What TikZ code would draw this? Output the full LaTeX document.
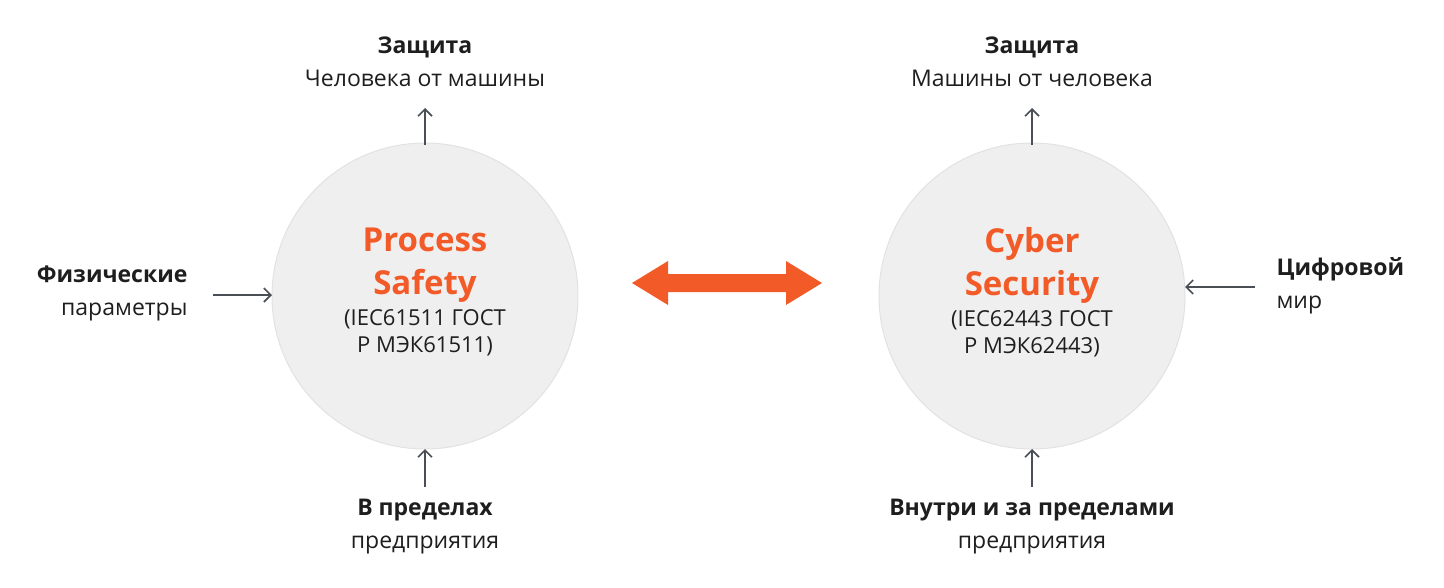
\documentclass[tikz,border=0pt]{standalone}
\usepackage{fontspec}
\setmainfont{Open Sans}
\usetikzlibrary{arrows.meta}
\usetikzlibrary{positioning}
\definecolor{disc}{HTML}{EFEFEF}
\definecolor{discline}{HTML}{E2E2E2}
\definecolor{accent}{HTML}{F25A28}
\definecolor{ink}{HTML}{1E1E1E}
\definecolor{arr}{HTML}{4A4F55}
\tikzset{
  zone/.style={circle, fill=disc, draw=discline, line width=1pt, minimum size=306pt, inner sep=0pt},
  head/.style={text=accent, font=\fontsize{33}{43}\selectfont\bfseries, align=center},
  std/.style={text=ink, font=\fontsize{22}{27}\selectfont, align=center},
  lbl/.style={text=ink, font=\fontsize{23}{33}\selectfont},
  feed/.style={draw=arr, line width=1.6pt, -{Straight Barb[length=7pt,width=14pt]}}
}
\begin{document}
\begin{tikzpicture}[x=1pt,y=-1pt]
\useasboundingbox (0,0) rectangle (1444,587);
% discs
\node[zone] (ps) at (425,296) {};
\node[zone] (cs) at (1032,296) {};
\node[head] (pst) at (425,265) {Process\\Safety};
\node[std, below=0pt of pst] {(IEC61511 ГОСТ\\Р МЭК61511)};
\node[head] (cst) at (1032,265) {Cyber\\Security};
\node[std, below=0pt of cst] {(IEC62443 ГОСТ\\Р МЭК62443)};
% link
\fill[accent] (632,283) -- (668,261) -- (668,274) -- (786,274) -- (786,261) -- (822,283)
  -- (786,305) -- (786,292) -- (668,292) -- (668,305) -- cycle;
% labels
\node[lbl, align=center] (pstop) at (425,62) {\textbf{Защита}\\Человека от машины};
\node[lbl, align=right, anchor=east] (psleft) at (191,293) {\textbf{Физические}\\параметры};
\node[lbl, align=center] (psbot) at (425,527) {\textbf{В пределах}\\предприятия};
\node[lbl, align=center] (cstop) at (1032,62) {\textbf{Защита}\\Машины от человека};
\node[lbl, align=left, anchor=west] (csright) at (1273,286) {\textbf{Цифровой}\\мир};
\node[lbl, align=center] (csbot) at (1032,527) {\textbf{Внутри и за пределами}\\предприятия};
% feeds
\coordinate (a1) at (425,145); \coordinate (b1) at (425,108);
\coordinate (a2) at (213,295); \coordinate (b2) at (272,295);
\coordinate (a3) at (425,487); \coordinate (b3) at (425,449);
\coordinate (a4) at (1032,145); \coordinate (b4) at (1032,108);
\coordinate (a5) at (1255,287); \coordinate (b5) at (1185,287);
\coordinate (a6) at (1032,487); \coordinate (b6) at (1032,449);
\foreach \i in {1,...,6} \draw[feed] (a\i) -- (b\i);
\end{tikzpicture}
\end{document}
